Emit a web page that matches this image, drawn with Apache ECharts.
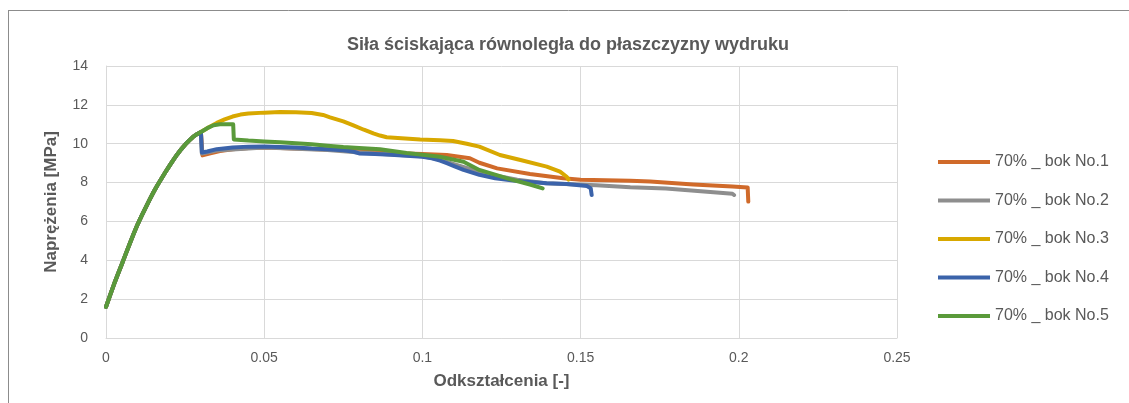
<!DOCTYPE html>
<html>
<head>
<meta charset="utf-8">
<script src="https://cdn.jsdelivr.net/npm/echarts@6/dist/echarts.min.js"></script>
<style>
  html, body { margin: 0; padding: 0; background: #ffffff; }
  #chart { width: 1129px; height: 403px; }
</style>
</head>
<body>
<div id="chart"></div>
<script>
// Stress–strain curves, compression parallel to the print plane
const chartTitle = 'Siła ściskająca równoległa do płaszczyzny wydruku';
const xAxisTitle = 'Odkształcenia [-]';
const yAxisTitle = 'Naprężenia [MPa]';
const seriesNames = ['70% _ bok No.1', '70% _ bok No.2', '70% _ bok No.3', '70% _ bok No.4', '70% _ bok No.5'];
const seriesColors = ['#D06A2A', '#8E8E8E', '#D8A800', '#3B63AA', '#5A9A3A'];

// shared elastic branch (strain, stress)
const elasticX = [0, 0.00125, 0.0025, 0.00375, 0.005, 0.00625, 0.0075, 0.00875, 0.01, 0.01125, 0.0125, 0.01375, 0.015, 0.01625, 0.0175, 0.01875, 0.02, 0.02125, 0.0225, 0.02375, 0.025, 0.02625, 0.0275, 0.02875, 0.03];
const elasticY = [1.6, 2.18, 2.75, 3.28, 3.8, 4.33, 4.85, 5.36, 5.85, 6.29, 6.7, 7.11, 7.5, 7.86, 8.2, 8.53, 8.85, 9.16, 9.45, 9.71, 9.95, 10.16, 10.35, 10.49, 10.6];

// post-peak branches
const bok1X = [0.0302, 0.0305, 0.033, 0.036, 0.04, 0.045, 0.05, 0.06, 0.07, 0.08, 0.0866, 0.095, 0.1, 0.1077, 0.115, 0.118, 0.1236, 0.134, 0.1445, 0.15, 0.1657, 0.172, 0.1856, 0.198, 0.2028, 0.203];
const bok1Y = [10.55, 9.4, 9.5, 9.62, 9.72, 9.78, 9.8, 9.76, 9.7, 9.63, 9.56, 9.5, 9.47, 9.42, 9.25, 9.02, 8.73, 8.44, 8.22, 8.15, 8.1, 8.05, 7.9, 7.8, 7.75, 7.02];

const bok2X = [0.0302, 0.0303, 0.035, 0.05, 0.07, 0.08, 0.09, 0.1, 0.105, 0.11, 0.115, 0.12, 0.13, 0.139, 0.155, 0.1657, 0.177, 0.188, 0.198, 0.1985];
const bok2Y = [10.55, 9.5, 9.65, 9.8, 9.68, 9.55, 9.45, 9.35, 9.2, 8.95, 8.7, 8.45, 8.15, 7.97, 7.86, 7.76, 7.7, 7.55, 7.42, 7.36];

const bok3X = [0.0325, 0.035, 0.0375, 0.04, 0.0425, 0.045, 0.05, 0.055, 0.06, 0.065, 0.0686, 0.0708, 0.075, 0.078, 0.0815, 0.0845, 0.0866, 0.0887, 0.0993, 0.1056, 0.1097, 0.114, 0.118, 0.1245, 0.131, 0.1393, 0.1435, 0.1456, 0.1462];
const bok3Y = [10.85, 11.07, 11.25, 11.4, 11.5, 11.55, 11.6, 11.63, 11.62, 11.58, 11.48, 11.36, 11.15, 10.96, 10.72, 10.53, 10.42, 10.33, 10.22, 10.18, 10.14, 10.0, 9.85, 9.42, 9.16, 8.82, 8.56, 8.3, 8.15];

const bok4X = [0.0302, 0.0303, 0.032, 0.035, 0.04, 0.045, 0.05, 0.055, 0.06, 0.065, 0.07, 0.075, 0.078, 0.08, 0.085, 0.09, 0.095, 0.1, 0.103, 0.1056, 0.1077, 0.11, 0.113, 0.118, 0.123, 0.1287, 0.1393, 0.1456, 0.152, 0.1532, 0.1535];
const bok4Y = [10.55, 9.55, 9.6, 9.72, 9.8, 9.85, 9.86, 9.83, 9.8, 9.75, 9.72, 9.66, 9.6, 9.5, 9.47, 9.43, 9.38, 9.33, 9.25, 9.13, 9.0, 8.85, 8.65, 8.4, 8.22, 8.1, 7.96, 7.93, 7.82, 7.7, 7.36];

const bok5X = [0.032, 0.034, 0.036, 0.0402, 0.0404, 0.045, 0.05, 0.055, 0.06, 0.065, 0.07, 0.075, 0.08, 0.0866, 0.095, 0.1, 0.1056, 0.113, 0.118, 0.1287, 0.134, 0.138];
const bok5Y = [10.8, 10.95, 11.0, 11.0, 10.22, 10.16, 10.12, 10.08, 10.02, 9.97, 9.9, 9.83, 9.78, 9.71, 9.52, 9.43, 9.33, 9.07, 8.65, 8.13, 7.9, 7.7];

const xTicks = { min: 0, max: 0.25, interval: 0.05 };
const yTicks = { min: 0, max: 14, interval: 2 };

function curve(bx, by) {
  const pts = elasticX.map((x, i) => [x, elasticY[i]]);
  bx.forEach((x, i) => pts.push([x, by[i]]));
  return pts;
}

const curves = [
  curve(bok1X, bok1Y),
  curve(bok2X, bok2Y),
  curve(bok3X, bok3Y),
  curve(bok4X, bok4Y),
  curve(bok5X, bok5Y)
];

const textColor = '#595959';
const fontFamily = '"Liberation Sans", Arial, sans-serif';
const chart = echarts.init(document.getElementById('chart'));

chart.setOption({
  animation: false,
  backgroundColor: '#ffffff',
  grid: { left: 106, right: 232, top: 66, bottom: 65 },
  graphic: [
    { type: 'line', shape: { x1: 8.5, y1: 10, x2: 8.5, y2: 403 }, style: { stroke: '#8c8c8c', lineWidth: 1 } },
    { type: 'line', shape: { x1: 8, y1: 10.5, x2: 1129, y2: 10.5 }, style: { stroke: '#8c8c8c', lineWidth: 1 } },
    {
      type: 'text', x: 568, y: 45,
      style: { text: chartTitle, fill: textColor, font: 'bold 18px ' + fontFamily, align: 'center', verticalAlign: 'middle' }
    }
  ],
  legend: {
    orient: 'vertical',
    left: 933, top: 147,
    itemWidth: 52, itemHeight: 4, itemGap: 18.5,
    icon: 'rect',
    data: seriesNames,
    textStyle: { color: textColor, fontSize: 16, lineHeight: 20, fontFamily: fontFamily }
  },
  xAxis: {
    type: 'value',
    min: xTicks.min, max: xTicks.max, interval: xTicks.interval,
    name: xAxisTitle, nameLocation: 'middle', nameGap: 35,
    nameTextStyle: { color: textColor, fontSize: 17, fontWeight: 'bold', fontFamily: fontFamily },
    axisLine: { show: true, lineStyle: { color: '#d9d9d9', width: 1 } },
    axisTick: { show: false },
    axisLabel: { color: textColor, fontSize: 14, margin: 13, fontFamily: fontFamily,
      formatter: v => String(+v.toFixed(2)) },
    splitLine: { show: true, lineStyle: { color: '#d9d9d9', width: 1 } }
  },
  yAxis: {
    type: 'value',
    min: yTicks.min, max: yTicks.max, interval: yTicks.interval,
    name: yAxisTitle, nameLocation: 'middle', nameGap: 46,
    nameTextStyle: { color: textColor, fontSize: 17, fontWeight: 'bold', fontFamily: fontFamily },
    axisLine: { show: true, lineStyle: { color: '#d9d9d9', width: 1 } },
    axisTick: { show: false },
    axisLabel: { color: textColor, fontSize: 14, margin: 18, fontFamily: fontFamily },
    splitLine: { show: true, lineStyle: { color: '#d9d9d9', width: 1 } }
  },
  series: curves.map((data, i) => ({
    name: seriesNames[i],
    type: 'line',
    data: data,
    showSymbol: false,
    symbol: 'none',
    smooth: false,
    lineStyle: { color: seriesColors[i], width: 4, join: 'round', cap: 'round' },
    itemStyle: { color: seriesColors[i] },
    z: 2 + i
  }))
});
</script>
</body>
</html>
